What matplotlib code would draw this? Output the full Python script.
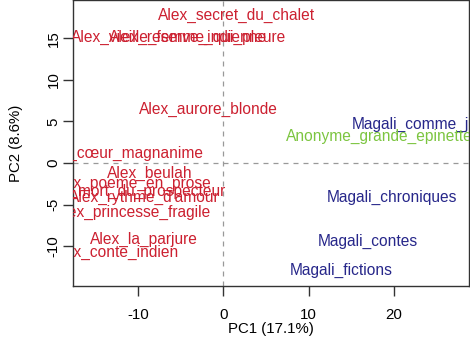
import matplotlib

matplotlib.use("Agg")

import matplotlib.pyplot as plt

# PCA scores (label centres)
alex_names = [
    "Alex_secret_du_chalet",
    "Alex_vieille_femme_qui_pleure",
    "Alex_reserve_indienne",
    "Alex_aurore_blonde",
    "Alex_cœur_magnanime",
    "Alex_beulah",
    "Alex_poeme_en_prose",
    "Alex_mort_du_prospecteur",
    "Alex_rythme_d'amour",
    "Alex_princesse_fragile",
    "Alex_la_parjure",
    "Alex_conte_indien",
]
alex_pc1 = [1.6, -5.2, -4.1, -1.7, -12.0, -8.6, -10.8, -10.6, -9.3, -10.6, -9.35, -12.6]
alex_pc2 = [17.7, 15.1, 15.1, 6.4, 1.1, -1.2, -2.4, -3.4, -4.2, -5.9, -9.25, -10.7]

magali_names = ["Magali_comme_jadis", "Magali_chroniques", "Magali_contes", "Magali_fictions"]
magali_pc1 = [23.6, 19.8, 17.0, 13.8]
magali_pc2 = [4.6, -4.1, -9.4, -12.9]

anon_names = ["Anonyme_grande_epinette"]
anon_pc1 = [18.25]
anon_pc2 = [3.2]

x_ticks = [-10, 0, 10, 20]
y_ticks = [-10, -5, 0, 5, 10, 15]

plt.rcParams["font.family"] = ["Liberation Sans", "DejaVu Sans"]
plt.rcParams["axes.unicode_minus"] = False

fig = plt.figure(figsize=(4.7, 3.43), dpi=100)
ax = fig.add_axes([0.1553, 0.166, 0.842, 0.834])
ax.set_xlim(-17.65, 28.8)
ax.set_ylim(-14.8, 19.6)

ax.axvline(0, color="#999999", lw=0.9, ls=(0, (4, 4)))
ax.axhline(0, color="#999999", lw=0.9, ls=(0, (4, 4)))

groups = [
    (alex_names, alex_pc1, alex_pc2, "#cc2030"),
    (magali_names, magali_pc1, magali_pc2, "#27278a"),
    (anon_names, anon_pc1, anon_pc2, "#7cc540"),
]
for names, xs, ys, col in groups:
    for name, x, y in zip(names, xs, ys):
        ax.text(x, y, name, color=col, fontsize=11.2, ha="center", va="center",
                clip_on=True)

ax.set_xticks(x_ticks)
ax.set_yticks(y_ticks)
ax.tick_params(direction="out", length=7, width=1, labelsize=10.8, color="#333333")
ax.tick_params(axis="y", labelrotation=90, pad=2)
for lab in ax.get_yticklabels():
    lab.set_va("center")
ax.tick_params(axis="x", pad=9)
ax.set_xlabel("PC1 (17.1%)", fontsize=10.8, labelpad=0)
ax.set_ylabel("PC2 (8.6%)", fontsize=10.8, labelpad=17)
for s in ax.spines.values():
    s.set_color("#333333")
    s.set_linewidth(1)

fig.savefig("out.png", dpi=100)
plt.close(fig)
